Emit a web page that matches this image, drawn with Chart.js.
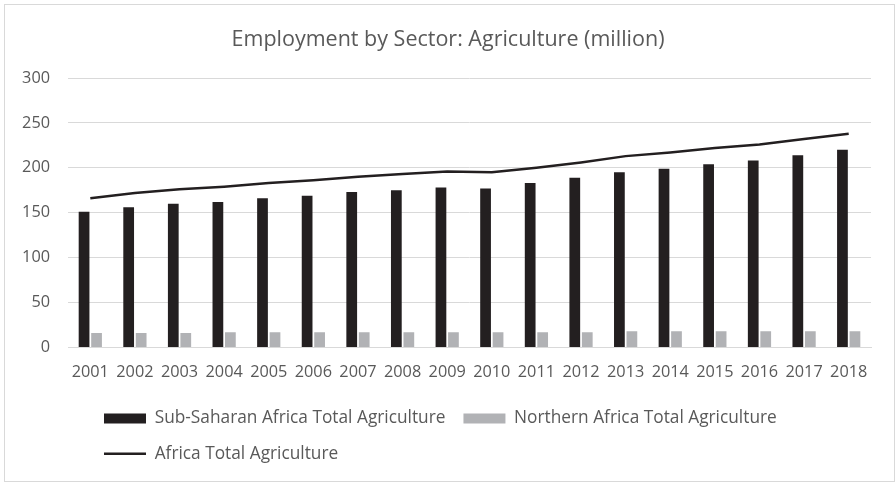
<!DOCTYPE html>
<html>
<head>
<meta charset="utf-8">
<script src="https://cdn.jsdelivr.net/npm/chart.js@4.4.1/dist/chart.umd.min.js"></script>
<style>
  html, body { margin: 0; padding: 0; background: #ffffff; }
  #wrap { position: relative; width: 896px; height: 483px; }
  #frame { position: absolute; left: 4px; top: 4px; width: 889px; height: 476px; border: 1px solid #d9d9d9; box-sizing: content-box; }
  canvas { position: absolute; left: 0; top: 0; }
</style>
</head>
<body>
<div id="wrap">
  <div id="frame"></div>
  <canvas id="c" width="896" height="483"></canvas>
</div>
<script>
const titleText = 'Employment by Sector: Agriculture (million)';
const years = ['2001','2002','2003','2004','2005','2006','2007','2008','2009','2010','2011','2012','2013','2014','2015','2016','2017','2018'];
const subSaharan = [151, 156, 160, 162, 166, 169, 173, 175, 178, 177, 183, 189, 195, 199, 204, 208, 214, 220];
const northern = [16, 16, 16, 17, 17, 17, 17, 17, 17, 17, 17, 17, 18, 18, 18, 18, 18, 18];
const africaTotal = [166, 172, 176, 179, 183, 186, 190, 193, 196, 195, 200, 206, 213, 217, 222, 226, 232, 238];
const seriesNames = ['Sub-Saharan Africa Total Agriculture', 'Northern Africa Total Agriculture', 'Africa Total Agriculture'];
const yTicks = [0, 50, 100, 150, 200, 250, 300];

const FONT = 'Open Sans';
const TXT = '#595959';

const boxShift = {
  id: 'boxShift',
  afterLayout(chart) {
    if (chart.legend) { chart.legend.left = 86; }
    if (chart.titleBlock) { chart.titleBlock.left = 0; chart.titleBlock.right = 896; chart.titleBlock.width = 896; }
  }
};

new Chart(document.getElementById('c'), {
  type: 'bar',
  data: {
    labels: years,
    datasets: [
      { label: seriesNames[0], data: subSaharan, backgroundColor: '#231f20', borderWidth: 0,
        categoryPercentage: 0.56, barPercentage: 0.86 },
      { label: seriesNames[1], data: northern, backgroundColor: '#b1b2b5', borderWidth: 0,
        categoryPercentage: 0.56, barPercentage: 0.86 },
      { type: 'line', label: seriesNames[2], data: africaTotal, borderColor: '#231f20', backgroundColor: '#231f20',
        borderWidth: 2.5, pointRadius: 0, pointHoverRadius: 0, tension: 0, fill: false }
    ]
  },
  options: {
    responsive: false,
    animation: false,
    devicePixelRatio: 1,
    layout: { padding: { left: 0, right: 25, top: 0, bottom: 10.5 } },
    scales: {
      x: {
        offset: true,
        grid: { display: false, drawTicks: false },
        border: { display: true, color: '#d9d9d9', width: 1 },
        ticks: { color: TXT, font: { family: FONT, size: 16.3 }, padding: 15, maxRotation: 0, autoSkip: false },
        afterFit(scale) { scale.height = 44.5; }
      },
      y: {
        min: 0, max: 300,
        afterBuildTicks(scale) { scale.ticks = yTicks.map(v => ({ value: v })); },
        grid: { color: '#d9d9d9', lineWidth: 1, drawTicks: false },
        border: { display: false },
        ticks: { color: TXT, font: { family: FONT, size: 16.3 }, padding: 18 },
        afterFit(scale) { scale.width = 68; }
      }
    },
    plugins: {
      title: {
        display: true, text: titleText, color: TXT,
        font: { family: FONT, size: 21.5, weight: 'normal' },
        padding: { top: 27.1, bottom: 25.1 }
      },
      legend: {
        position: 'bottom', align: 'start',
        labels: {
          color: TXT, font: { family: FONT, size: 17.3 },
          usePointStyle: true, pointStyleWidth: 42, boxHeight: 10, padding: 18,
          generateLabels(chart) {
            const items = Chart.defaults.plugins.legend.labels.generateLabels(chart);
            items.forEach((it) => {
              const ds = chart.data.datasets[it.datasetIndex];
              it.pointStyle = ds.type === 'line' ? 'line' : 'rect';
              if (ds.type === 'line') { it.lineWidth = 2.5; it.strokeStyle = '#231f20'; }
              else { it.lineWidth = 0; }
            });
            return items;
          }
        }
      },
      tooltip: { enabled: false }
    }
  },
  plugins: [boxShift]
});
</script>
</body>
</html>
